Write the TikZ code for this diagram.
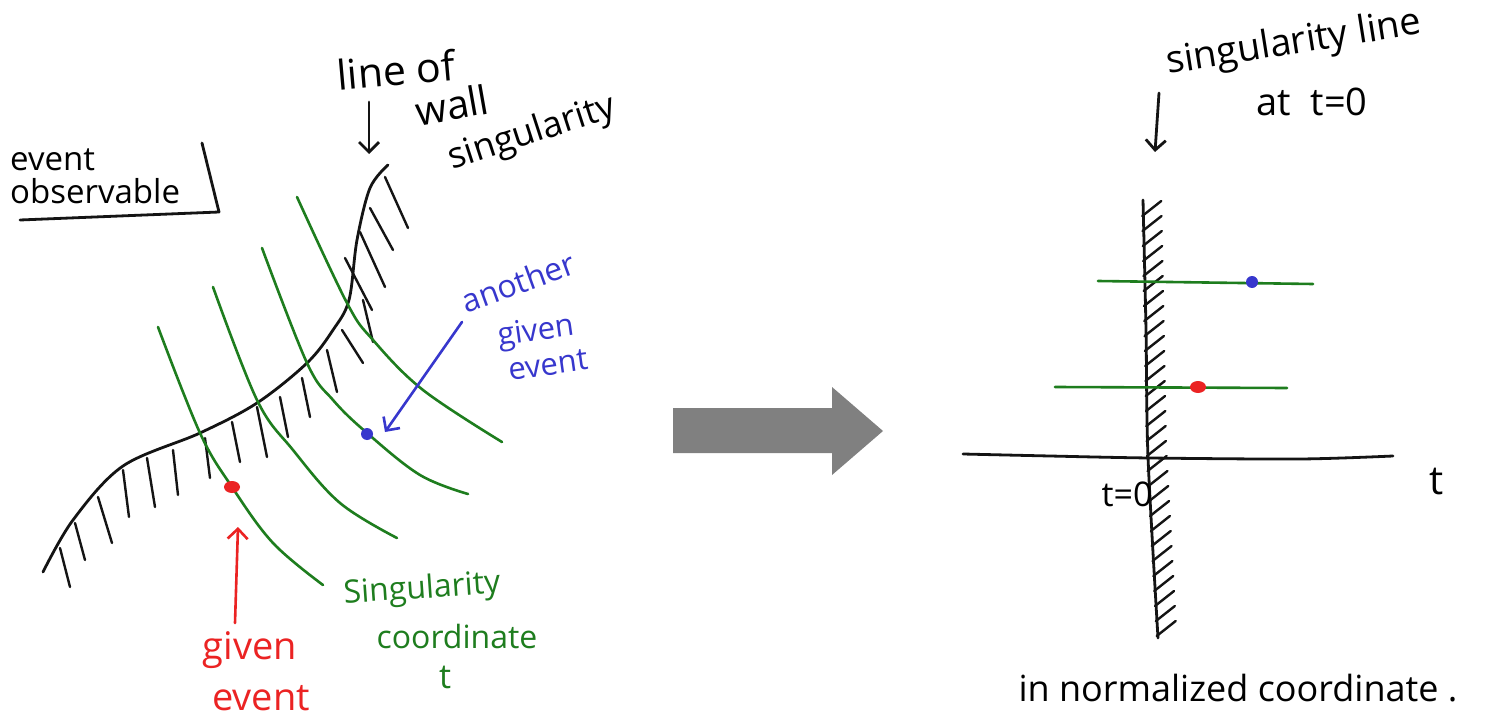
\documentclass[tikz,border=0pt]{standalone}
\usepackage{fontspec}
\setmainfont{Open Sans}
\usetikzlibrary{arrows.meta}
\definecolor{penblack}{RGB}{20,20,20}
\definecolor{pengreen}{RGB}{30,125,30}
\definecolor{penred}{RGB}{235,35,35}
\definecolor{penblue}{RGB}{55,55,205}
\definecolor{arrowgray}{RGB}{128,128,128}
\begin{document}
\begin{tikzpicture}[x=1pt,y=-1pt,line cap=round,line join=round,
  ink/.style={draw=penblack,line width=2.8pt},
  gline/.style={draw=pengreen,line width=2.6pt},
  hatch/.style={draw=penblack,line width=2.4pt},
  hand/.style={font=\fontsize{#1}{#1}\selectfont,inner sep=0pt},
  hand/.default=32,
  barb/.style={-{Straight Barb[length=10pt,width=20pt]}}]
\useasboundingbox[fill=white] (0,0) rectangle (1507,722);

% ---------------- left panel ----------------
% event observable box
\node[hand=33,align=left,anchor=west] (eo) at (10,176) {event\\observable};
\draw[ink] (202,143) -- (219,212) -- (20,220);

% wall line
\draw[ink] plot[smooth,tension=0.55] coordinates {(43,572) (73,520) (123,466) (200,433) (257,403) (307,363) (333,330) (349,300) (357,240) (370,188) (388,165)};
% hatches
\foreach \a/\b/\c/\d in {60/548/70/587, 75/523/85/560, 98/497/112/543, 123/470/129/517, 147/458/155/507, 173/450/178/495, 205/438/210/478, 232/422/240/462, 257/407/267/457, 280/397/288/437, 302/378/310/417, 327/350/337/392, 342/330/363/363, 363/300/373/342, 345/258/372/310, 360/232/385/287, 370/208/393/250, 385/177/408/228}
  \draw[hatch] (\a,\b) -- (\c,\d);

% singularity coordinate curves
\draw[gline] plot[smooth,tension=0.6] coordinates {(158,327) (200,433) (232,487) (273,543) (323,585)};
\draw[gline] plot[smooth,tension=0.6] coordinates {(213,287) (257,400) (293,450) (340,503) (397,538)};
\draw[gline] plot[smooth,tension=0.6] coordinates {(262,248) (307,363) (333,400) (367,433) (420,475) (468,494)};
\draw[gline] plot[smooth,tension=0.6] coordinates {(297,197) (347,303) (373,340) (423,390) (502,442)};

% events
\fill[penred] (232,487) ellipse (8 and 6);
\fill[penblue] (367,434) circle (6);

% top labels
\node[hand=41,rotate=5] (lineof) at (396,70) {line of};
\node[hand=40,rotate=10] (wall) at (452,105) {wall};
\node[hand=36,rotate=18] (sing) at (532,134) {singularity};
\coordinate (wa1) at (369,102);
\coordinate (wa2) at (369,154);
\draw[ink,barb] (wa1) -- (wa2);

% another given event
\node[hand=32,rotate=20,text=penblue] (another) at (518,282) {another};
\node[hand=31,rotate=8,text=penblue] (given2) at (536,333) {given};
\node[hand=31,rotate=8,text=penblue] (event2) at (548,365) {event};
\coordinate (ba1) at (462,322);
\coordinate (ba2) at (385,432);
\draw[draw=penblue,line width=2.6pt,barb] (ba1) -- (ba2);

% given event
\node[hand=38,text=penred] (given1) at (250,650) {given};
\node[hand=38,text=penred] (event1) at (261,698) {event};
\coordinate (ra1) at (235,623);
\coordinate (ra2) at (238,527);
\draw[draw=penred,line width=2.6pt,barb] (ra1) -- (ra2);

% singularity coordinate t
\node[hand=32,rotate=4,text=pengreen] (sing2) at (422,590) {Singularity};
\node[hand=32,text=pengreen] (coord) at (457,636) {coordinate};
\node[hand=34,text=pengreen] (tg) at (445,677) {t};

% ---------------- big arrow ----------------
\fill[arrowgray] (673,408) -- (832,408) -- (832,387) -- (883,431) -- (832,475) -- (832,453) -- (673,453) -- cycle;

% ---------------- right panel ----------------
\node[hand=38,rotate=9] (sl) at (1294,44) {singularity line};
\node[hand=38] (att) at (1312,102) {at\ \ t=0};
\coordinate (sa1) at (1159,93);
\coordinate (sa2) at (1155,152);
\draw[ink,barb] (sa1) -- (sa2);

% wall line (normalized)
\draw[ink] plot[smooth,tension=0.5] coordinates {(1143,200) (1146,330) (1148,457) (1158,638)};
\foreach \y in {213,228,...,633} {
  \pgfmathsetmacro\xx{\y<457 ? 1143+(\y-200)*0.0195 : 1148+(\y-457)*0.055}
  \draw[hatch] (\xx-1,\y+3) -- (\xx+18,\y-12);
}

% t axis
\draw[ink] plot[smooth,tension=0.5] coordinates {(963,454) (1050,456) (1150,458) (1300,459) (1393,456)};
\node[hand=40] (tl) at (1437,482) {t};
\node[hand=34] (t0) at (1127,494) {t=0};

% singularity coordinate lines
\draw[gline] (1098,281) -- (1313,284);
\draw[gline] (1055,387) -- (1287,388);
\fill[penblue] (1252,282) circle (6);
\fill[penred] (1198,387) ellipse (8 and 6);

\node[hand=36] (norm) at (1238,688) {in normalized coordinate .};
\end{tikzpicture}
\end{document}
